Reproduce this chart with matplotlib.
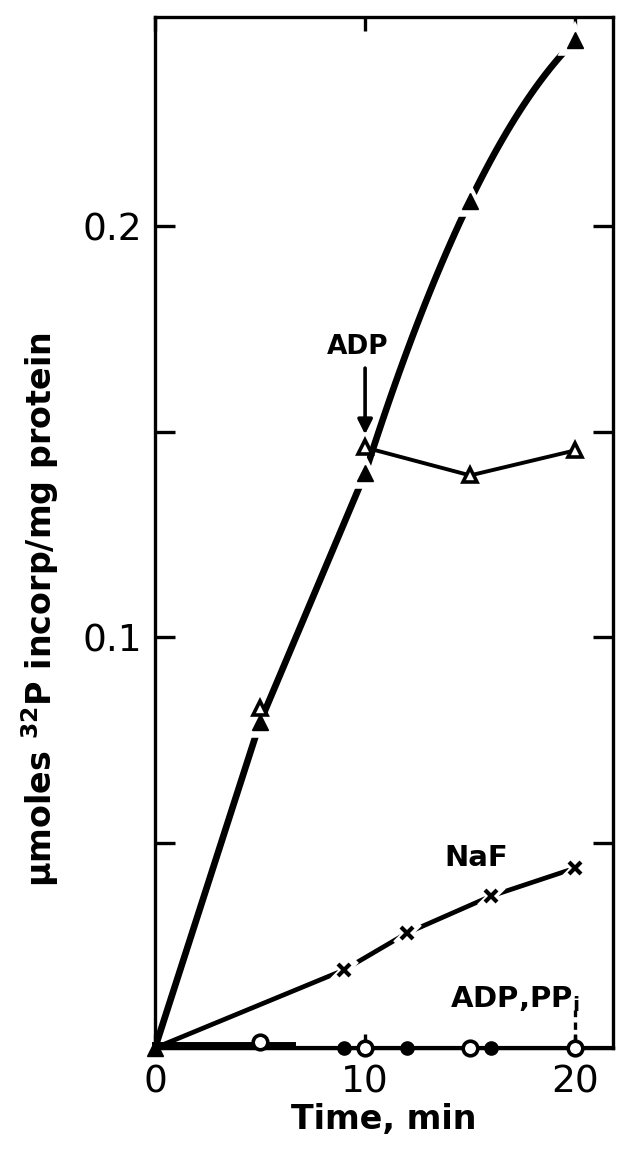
import numpy as np
import matplotlib
matplotlib.use('Agg')
import matplotlib.pyplot as plt

plt.rcParams['font.family'] = ['DejaVu Sans']
plt.rcParams['mathtext.fontset'] = 'dejavusans'

# control (filled triangles)
t_ctrl = [0, 5, 10, 15, 20]
y_ctrl = [0.0, 0.0793, 0.1399, 0.2063, 0.2453]
# ADP added at 10 min (open triangles)
t_adp = [5, 10, 15, 20]
y_adp = [0.0827, 0.1462, 0.1394, 0.1455]
# NaF (x)
t_naf = [0, 9, 12, 16, 20]
y_naf = [0.0, 0.019, 0.028, 0.037, 0.0438]
# ADP, PPi (open / filled circles)
t_ppi_open = [5, 10, 15, 20]
y_ppi_open = [0.0015, 0.0, 0.0, 0.0]
t_ppi_fill = [9, 12, 16, 20]
y_ppi_fill = [0.0, 0.0, 0.0, 0.0]

fig = plt.figure(figsize=(6.18, 11.54), dpi=100)
ax = fig.add_axes([155 / 618, 106 / 1154, 458 / 618, 1031 / 1154])


def halo(x, y, marker, ms, mew=0):
    ax.plot(x, y, marker, color='white', ms=ms + 7, mew=mew + 4, ls='none', zorder=4, clip_on=False)


# control curve: straight to 10 min, then smooth through the last points
ax.plot(t_ctrl[:3], y_ctrl[:3], color='black', lw=4.8, solid_capstyle='round', zorder=3)
coef = np.polyfit(t_ctrl[2:], y_ctrl[2:], 2)
tt = np.linspace(t_ctrl[2], t_ctrl[4], 50)
ax.plot(tt, np.polyval(coef, tt), color='black', lw=4.8, solid_capstyle='round', zorder=3)
halo(t_ctrl[1:], y_ctrl[1:], '^', 12)
ax.plot(t_ctrl, y_ctrl, '^', color='black', ms=12, zorder=5, clip_on=False)

# ADP
ax.plot(t_adp[1:], y_adp[1:], color='black', lw=2.8, zorder=3)
ax.plot(t_adp, y_adp, '^', mfc='white', mec='black', mew=2.6, ms=10, ls='none', zorder=6)

# NaF
ax.plot(t_naf, y_naf, color='black', lw=3.4, zorder=3)
halo(t_naf[1:], y_naf[1:], 'x', 9, 2.8)
ax.plot(t_naf[1:], y_naf[1:], 'x', color='black', mew=3, ms=9, ls='none', zorder=6)

# ADP, PPi
ax.plot([0, 6.5], [0.0007, 0.0007], color='black', lw=5, clip_on=False, zorder=3)
ax.plot([0, 21.8], [0, 0], color='black', lw=3, clip_on=False, zorder=3)
ax.plot(t_ppi_fill, y_ppi_fill, 'o', color='black', ms=9.5, clip_on=False, zorder=6)
ax.plot(t_ppi_open, y_ppi_open, 'o', mfc='white', mec='black', mew=2.6, ms=10.5,
        clip_on=False, zorder=7)

# annotations
ax.annotate('', xy=(10, 0.1487), xytext=(10, 0.1662),
            arrowprops=dict(arrowstyle='-|>', color='black', lw=2.6, mutation_scale=22))
ax.text(9.67, 0.1706, 'ADP', ha='center', va='center', fontsize=19, fontweight='bold')
ax.text(15.3, 0.0462, 'NaF', fontsize=21, fontweight='bold', ha='center', va='center')
ax.text(17.1, 0.0100, r'ADP,PP$_\mathbf{i}$', fontsize=21, fontweight='bold',
        ha='center', va='baseline')
ax.plot([20, 20], [0.0015, 0.0092], color='black', lw=2.4, ls=(0, (2.2, 1.6)))

ax.set_xlim(0, 21.8)
ax.set_ylim(0, 0.251)
ax.set_xticks([0, 10, 20])
ax.set_xticklabels(['0', '10', '20'])
ax.set_yticks([0.05, 0.1, 0.15, 0.2])
ax.set_yticklabels(['', '0.1', '', '0.2'])
ax.tick_params(axis='both', direction='in', width=2.4, length=14.5, labelsize=27,
               top=True, right=True, pad=9)
ax.tick_params(axis='x', which='both', bottom=True, length=10, pad=12)
for s in ax.spines.values():
    s.set_linewidth(2.4)

ax.set_xlabel('Time, min', fontsize=24, fontweight='bold', labelpad=2)
ax.set_ylabel(r'$\mathbf{\mu}$moles $^{\mathbf{32}}$P incorp/mg protein', fontsize=24,
              fontweight='bold')
ax.yaxis.set_label_coords(-0.205, 0.425)

fig.savefig('out.png', dpi=100)
